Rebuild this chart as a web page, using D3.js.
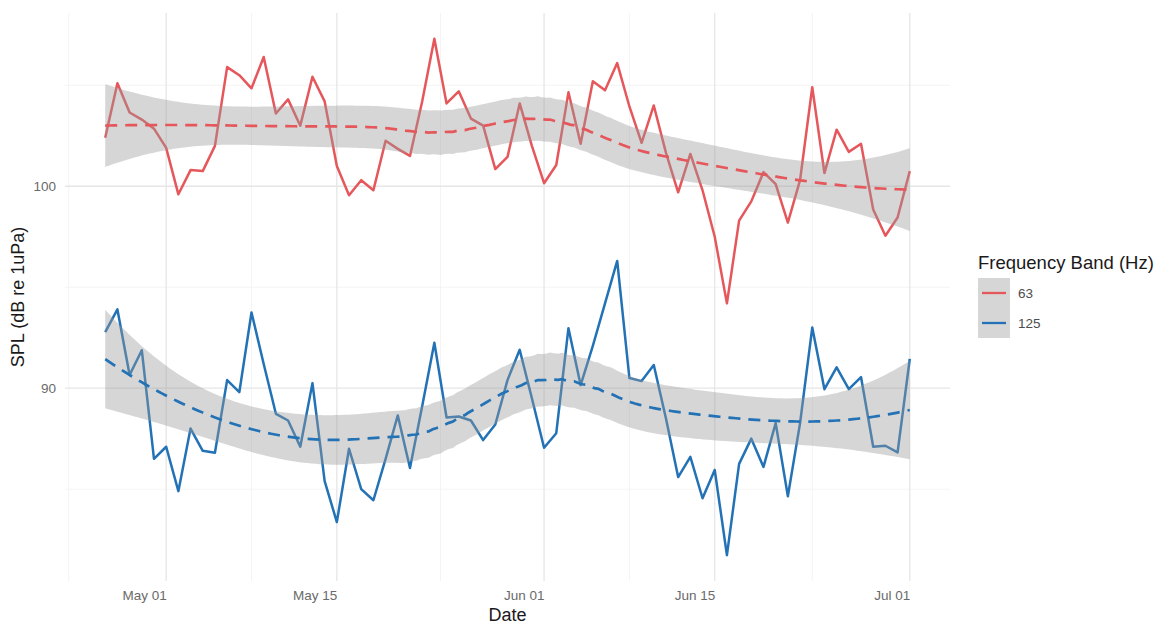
<!DOCTYPE html>
<html>
<head>
<meta charset="utf-8">
<script src="https://cdn.jsdelivr.net/npm/d3@7"></script>
<style>
  body { margin: 0; background: #ffffff; }
  svg { display: block; font-family: "Liberation Sans", Arial, sans-serif; }
</style>
</head>
<body>
<svg id="chart" width="1157" height="626"></svg>
<script>
// Daily sound pressure level, two frequency bands
const firstDay = "2023-04-26";
const lastDay = "2023-07-01";
const bandNames = ["63", "125"];

const spl63 = [
  102.4, 105.1, 103.65, 103.3, 102.85, 101.9, 99.6, 100.8, 100.75, 102.0,
  105.9, 105.5, 104.85, 106.4, 103.6, 104.3, 103.0, 105.42, 104.2, 101.0,
  99.55, 100.3, 99.8, 102.25, 101.85, 101.5, 104.2, 107.3, 104.1, 104.7,
  103.35, 103.0, 100.85, 101.45, 104.1, 102.0, 100.15, 101.05, 104.65, 102.1,
  105.2, 104.75, 106.1, 103.95, 102.15, 104.0, 101.65, 99.7, 101.6, 99.8,
  97.5, 94.2, 98.3, 99.25, 100.7, 100.1, 98.2, 100.3, 104.9, 100.65,
  102.8, 101.7, 102.1, 98.85, 97.55, 98.45, 100.75
];

const spl125 = [
  92.78, 93.9, 90.65, 91.88, 86.5, 87.1, 84.9, 88.0, 86.9, 86.8,
  90.4, 89.8, 93.75, 91.2, 88.73, 88.4, 87.1, 90.25, 85.4, 83.37,
  87.0, 85.0, 84.45, 86.5, 88.65, 86.05, 89.1, 92.25, 88.55, 88.6,
  88.4, 87.43, 88.2, 90.4, 91.9, 89.5, 87.05, 87.77, 92.97, 90.15,
  92.1, 94.2, 96.3, 90.5, 90.35, 91.15, 88.5, 85.6, 86.6, 84.55,
  85.95, 81.73, 86.25, 87.5, 86.1, 88.27, 84.65, 88.27, 93.0, 89.95,
  91.03, 89.95, 90.55, 87.1, 87.15, 86.82, 91.45
];

const xMajorTicks = ["2023-05-01", "2023-05-15", "2023-06-01", "2023-06-15", "2023-07-01"];
const xMinorTicks = ["2023-04-23", "2023-05-08", "2023-05-23T12:00", "2023-06-08", "2023-06-23"];
const yMajorTicks = [90, 100];
const yMinorTicks = [85, 95, 105];
const bandColors = ["#E5575B", "#2372B5"];

const panel = { left: 65, right: 950, top: 13, bottom: 581 };

const svg = d3.select("#chart");
const parse = d3.utcParse("%Y-%m-%d");
const parseAny = s => (s.includes("T") ? d3.utcParse("%Y-%m-%dT%H:%M")(s) : parse(s));
const days = d3.utcDay.range(parse(firstDay), d3.utcDay.offset(parse(lastDay), 1));

// ---- local quadratic regression (loess, span 0.75) with 95% band ----
function loess(xs, ys, span, evalXs) {
  const n = xs.length;
  const q = Math.floor(n * span);
  function inv3(m) {
    const [a, b, c] = m[0], [d, e, f] = m[1], [g, h, i] = m[2];
    const A = e * i - f * h, B = -(d * i - f * g), C = d * h - e * g;
    const det = a * A + b * B + c * C;
    return [
      [A / det, -(b * i - c * h) / det, (b * f - c * e) / det],
      [B / det, (a * i - c * g) / det, -(a * f - c * d) / det],
      [C / det, -(a * h - b * g) / det, (a * e - b * d) / det]
    ];
  }
  function row(x0) {
    const d = xs.map(x => Math.abs(x - x0));
    const h = d.slice().sort((a, b) => a - b)[q - 1] * 1.0000001;
    const w = d.map(di => { const u = di / h; return u < 1 ? Math.pow(1 - u * u * u, 3) : 0; });
    const S = [[0, 0, 0], [0, 0, 0], [0, 0, 0]];
    xs.forEach((x, k) => {
      const t = x - x0, v = [1, t, t * t];
      for (let a = 0; a < 3; a++) for (let b = 0; b < 3; b++) S[a][b] += w[k] * v[a] * v[b];
    });
    const Si = inv3(S);
    return xs.map((x, k) => {
      const t = x - x0;
      return w[k] * (Si[0][0] + Si[0][1] * t + Si[0][2] * t * t);
    });
  }
  const L = xs.map(x => row(x));
  const fitted = L.map(r => d3.sum(r, (v, k) => v * ys[k]));
  const rss = d3.sum(ys, (y, k) => (y - fitted[k]) ** 2);
  const IL = L.map((r, a) => r.map((v, b) => (a === b ? 1 : 0) - v));
  const M = IL.map((_, a) => IL.map((__, b) => {
    let s = 0; for (let k = 0; k < n; k++) s += IL[k][a] * IL[k][b]; return s;
  }));
  const delta1 = d3.sum(M, (r, a) => r[a]);
  const delta2 = d3.sum(M, r => d3.sum(r, v => v * v));
  const sigma = Math.sqrt(rss / delta1);
  const df = delta1 * delta1 / delta2;
  const z = 1.959964;
  const tq = z + (z ** 3 + z) / (4 * df) + (5 * z ** 5 + 16 * z ** 3 + 3 * z) / (96 * df * df);
  return evalXs.map(x0 => {
    const r = row(x0);
    const fit = d3.sum(r, (v, k) => v * ys[k]);
    const se = sigma * Math.sqrt(d3.sum(r, v => v * v));
    return { x: x0, fit, lo: fit - tq * se, hi: fit + tq * se };
  });
}

const dayIndex = days.map((_, i) => i);
const gridX = d3.range(0, 200).map(k => k * (days.length - 1) / 199);
const series = [spl63, spl125].map((vals, s) => ({
  name: bandNames[s],
  color: bandColors[s],
  points: vals.map((v, i) => ({ date: days[i], v })),
  smooth: loess(dayIndex, vals, 0.75, gridX).map(p => ({
    date: new Date(days[0].getTime() + p.x * 864e5), fit: p.fit, lo: p.lo, hi: p.hi
  }))
}));

// ---- scales with 5% expansion ----
const xExt = d3.extent(days);
const xPad = (xExt[1] - xExt[0]) * 0.05;
const x = d3.scaleUtc()
  .domain([new Date(+xExt[0] - xPad), new Date(+xExt[1] + xPad)])
  .range([panel.left, panel.right]);

const allY = [];
series.forEach(s => { s.points.forEach(p => allY.push(p.v)); s.smooth.forEach(p => { allY.push(p.lo, p.hi); }); });
const yExt = d3.extent(allY);
const yPad = (yExt[1] - yExt[0]) * 0.05;
const y = d3.scaleLinear()
  .domain([yExt[0] - yPad, yExt[1] + yPad])
  .range([panel.bottom, panel.top]);

// ---- grid ----
const grid = svg.append("g");
grid.selectAll(".ymin").data(yMinorTicks).join("line")
  .attr("x1", panel.left).attr("x2", panel.right)
  .attr("y1", d => y(d)).attr("y2", d => y(d))
  .attr("stroke", "#f1f1f1").attr("stroke-width", 0.8);
grid.selectAll(".xmin").data(xMinorTicks.map(parseAny)).join("line")
  .attr("x1", d => x(d)).attr("x2", d => x(d))
  .attr("y1", panel.top).attr("y2", panel.bottom)
  .attr("stroke", "#f1f1f1").attr("stroke-width", 0.8);
grid.selectAll(".ymaj").data(yMajorTicks).join("line")
  .attr("x1", panel.left).attr("x2", panel.right)
  .attr("y1", d => y(d)).attr("y2", d => y(d))
  .attr("stroke", "#e6e6e6").attr("stroke-width", 1.3);
grid.selectAll(".xmaj").data(xMajorTicks.map(parse)).join("line")
  .attr("x1", d => x(d)).attr("x2", d => x(d))
  .attr("y1", panel.top).attr("y2", panel.bottom)
  .attr("stroke", "#e6e6e6").attr("stroke-width", 1.3);

// ---- data lines ----
const line = d3.line().x(d => x(d.date)).y(d => y(d.v));
series.forEach(s => {
  svg.append("path").datum(s.points)
    .attr("d", line).attr("fill", "none")
    .attr("stroke", s.color).attr("stroke-width", 2.5)
    .attr("stroke-linejoin", "round");
});

// ---- smooth fit: ribbon + dashed line ----
const area = d3.area().x(d => x(d.date)).y0(d => y(d.lo)).y1(d => y(d.hi));
const fitLine = d3.line().x(d => x(d.date)).y(d => y(d.fit));
series.forEach(s => {
  svg.append("path").datum(s.smooth)
    .attr("d", area).attr("fill", "#999999").attr("fill-opacity", 0.4);
  svg.append("path").datum(s.smooth)
    .attr("d", fitLine).attr("fill", "none")
    .attr("stroke", s.color).attr("stroke-width", 2.7)
    .attr("stroke-dasharray", "12,8");
});

// ---- axes ----
const fmt = d3.utcFormat("%b %d");
const xAxis = svg.append("g")
  .attr("transform", `translate(0,${panel.bottom + 6})`)
  .call(d3.axisBottom(x).tickValues(xMajorTicks.map(parse)).tickFormat(fmt).tickSize(0));
xAxis.select(".domain").remove();
xAxis.selectAll("text")
  .attr("text-anchor", "end").attr("dy", "0.71em")
  .attr("fill", "#6a6a6a").style("font-size", "13.5px")
  .style("font-family", "Liberation Sans, Arial, sans-serif");

const yAxis = svg.append("g")
  .attr("transform", `translate(${panel.left - 9},0)`)
  .call(d3.axisLeft(y).tickValues(yMajorTicks).tickSize(0));
yAxis.select(".domain").remove();
yAxis.selectAll("text")
  .attr("fill", "#6a6a6a").attr("x", 0).style("font-size", "13.5px")
  .style("font-family", "Liberation Sans, Arial, sans-serif");

svg.append("text")
  .attr("x", (panel.left + panel.right) / 2).attr("y", 621)
  .attr("text-anchor", "middle").attr("fill", "#1a1a1a")
  .style("font-size", "18px").text("Date");

svg.append("text")
  .attr("transform", `translate(24,${(panel.top + panel.bottom) / 2}) rotate(-90)`)
  .attr("text-anchor", "middle").attr("fill", "#1a1a1a")
  .style("font-size", "18px").text("SPL (dB re 1uPa)");

// ---- legend ----
const legend = svg.append("g").attr("transform", "translate(978,0)");
legend.append("text").attr("x", 0).attr("y", 269)
  .attr("fill", "#1a1a1a").style("font-size", "18.5px").text("Frequency Band (Hz)");
series.forEach((s, i) => {
  const top = 278 + i * 30;
  legend.append("rect").attr("x", 0).attr("y", top).attr("width", 32).attr("height", 30)
    .attr("fill", "#999999").attr("fill-opacity", 0.4);
  legend.append("line").attr("x1", 4).attr("x2", 28)
    .attr("y1", top + 15).attr("y2", top + 15)
    .attr("stroke", s.color).attr("stroke-width", 2.3);
  legend.append("text").attr("x", 40).attr("y", top + 15).attr("dy", "0.35em")
    .attr("fill", "#4d4d4d").style("font-size", "13.5px").text(s.name);
});
</script>
</body>
</html>
